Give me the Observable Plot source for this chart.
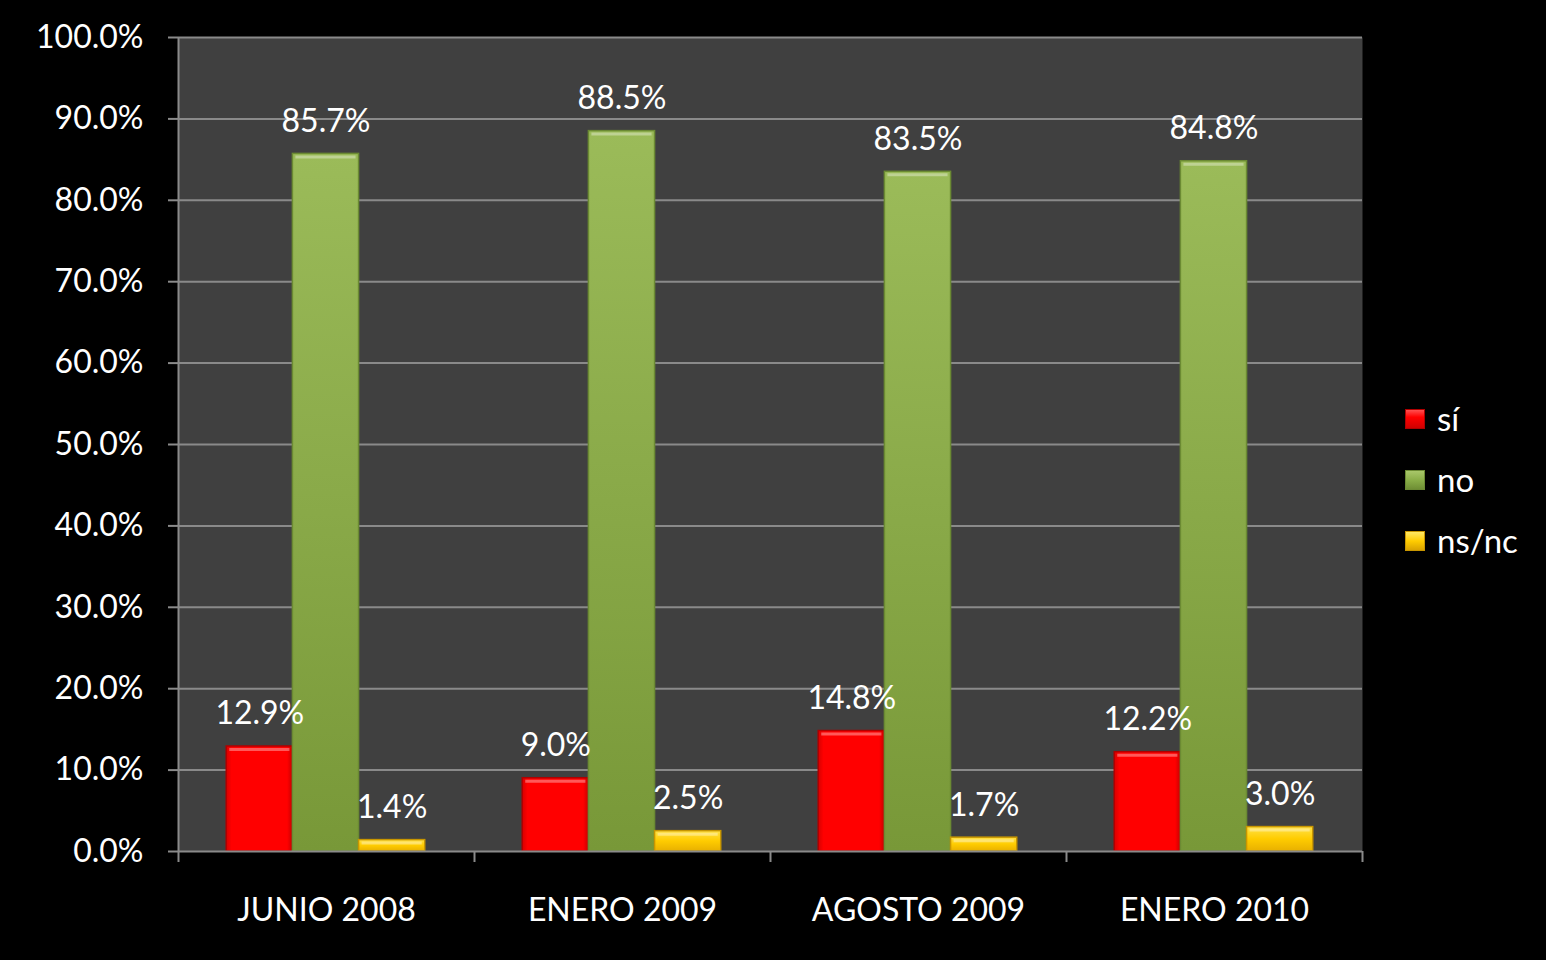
<!DOCTYPE html>
<html>
<head>
<meta charset="utf-8">
<script src="https://cdn.jsdelivr.net/npm/d3@7"></script>
<script src="https://cdn.jsdelivr.net/npm/@observablehq/plot@0.6"></script>
<style>
  html, body { margin: 0; padding: 0; background: #000; }
  #wrap { position: relative; width: 1546px; height: 960px; font-family: Lato, "Open Sans", sans-serif; }
  #legend { position: absolute; left: 1405px; top: 388px; color: #fff; font-size: 33px; line-height: 61px; }
  #legend .item { display: flex; align-items: center; height: 61px; }
  #legend .sw { width: 20px; height: 20px; margin-right: 12px; box-sizing: border-box; }
</style>
</head>
<body>
<div id="wrap"><div id="legend"></div></div>
<script>
// ---- data ----
const periods = ["JUNIO 2008", "ENERO 2009", "AGOSTO 2009", "ENERO 2010"];
const series = ["sí", "no", "ns/nc"];
const si = [12.9, 9.0, 14.8, 12.2];
const no = [85.7, 88.5, 83.5, 84.8];
const nsnc = [1.4, 2.5, 1.7, 3.0];
const yTicks = [0, 10, 20, 30, 40, 50, 60, 70, 80, 90, 100];

// ---- styles ----
const fills = {"sí": "url(#gRed)", "no": "url(#gGreen)", "ns/nc": "url(#gYellow)"};
const strokes = {"sí": "#b00000", "no": "#6b8a33", "ns/nc": "#c89600"};
const swatch = {"sí": "linear-gradient(#ff5050,#ff0000 40%,#d00000)", "no": "linear-gradient(#a9c76a,#8aae48 50%,#6f8f35)", "ns/nc": "linear-gradient(#ffe866,#ffcc00 50%,#d9a300)"};

const valuesBySeries = [si, no, nsnc];
const groupStart = 0.163, barW = 0.2235;
const rows = [];
periods.forEach((p, pi) => {
  series.forEach((s, k) => {
    const x1 = pi + groupStart + k * barW;
    rows.push({period: p, series: s, value: valuesBySeries[k][pi], x1, x2: x1 + barW, xc: x1 + barW / 2});
  });
});

const grid = "#8a8a8a";
const barMarks = series.flatMap(s => {
  const data = rows.filter(d => d.series === s);
  return [
    Plot.rect(data, {x1: "x1", x2: "x2", y1: 0, y2: "value", fill: fills[s], stroke: strokes[s], strokeWidth: 1.5}),
    Plot.ruleY(data, {x1: "x1", x2: "x2", y: "value", stroke: "rgba(255,255,255,0.35)", strokeWidth: 3, dy: 3, insetLeft: 3, insetRight: 3})
  ];
});

const plot = Plot.plot({
  width: 1546,
  height: 960,
  marginLeft: 178,
  marginRight: 184,
  marginTop: 37,
  marginBottom: 109,
  style: {background: "transparent", fontFamily: "Lato, 'Open Sans', sans-serif", color: "#fff"},
  x: {type: "linear", domain: [0, 4], axis: null},
  y: {type: "linear", domain: [0, 100], axis: null},
  marks: [
    Plot.frame({fill: "#404040", stroke: null}),
    Plot.gridY(yTicks.filter(d => d > 0), {stroke: grid, strokeOpacity: 1, strokeWidth: 2}),
    Plot.axisY(yTicks, {tickSize: 10, tickPadding: 25, stroke: grid, strokeWidth: 2, fill: "#fff", fontSize: 32, tickFormat: d => d.toFixed(1) + "%", label: null}),
    Plot.axisX([0, 1, 2, 3, 4], {tickSize: 11, stroke: grid, strokeWidth: 2, tickFormat: () => "", label: null}),
    Plot.axisX([0.5, 1.5, 2.5, 3.5], {tickSize: 0, tickPadding: 47, fill: "#fff", fontSize: 32, tickFormat: d => periods[Math.floor(d)], label: null}),
    Plot.ruleX([0], {stroke: grid, strokeWidth: 2}),
    ...barMarks,
    Plot.ruleY([0], {stroke: grid, strokeWidth: 2}),
    Plot.text(rows, {x: "xc", y: "value", text: d => d.value.toFixed(1) + "%", fill: "#fff", fontSize: 32, lineAnchor: "bottom", dy: -22})
  ]
});

// gradient defs
const defs = `<defs>
  <linearGradient id="gRed" x1="0" x2="1" y1="0" y2="0">
    <stop offset="0" stop-color="#d80000"/><stop offset="0.08" stop-color="#ff0000"/>
    <stop offset="0.92" stop-color="#ff0000"/><stop offset="1" stop-color="#c80000"/>
  </linearGradient>
  <linearGradient id="gGreen" x1="0" x2="0" y1="0" y2="1">
    <stop offset="0" stop-color="#9bbb59"/><stop offset="1" stop-color="#789838"/>
  </linearGradient>
  <linearGradient id="gYellow" x1="0" x2="0" y1="0" y2="1">
    <stop offset="0" stop-color="#ffe24a"/><stop offset="0.5" stop-color="#ffcc00"/><stop offset="1" stop-color="#e8b000"/>
  </linearGradient>
</defs>`;
plot.insertAdjacentHTML("afterbegin", defs);
document.getElementById("wrap").prepend(plot);

const legend = document.getElementById("legend");
series.forEach(s => {
  const item = document.createElement("div");
  item.className = "item";
  item.innerHTML = `<span class="sw" style="background:${swatch[s]};border:1px solid ${strokes[s]}"></span><span>${s}</span>`;
  legend.appendChild(item);
});
</script>
</body>
</html>
